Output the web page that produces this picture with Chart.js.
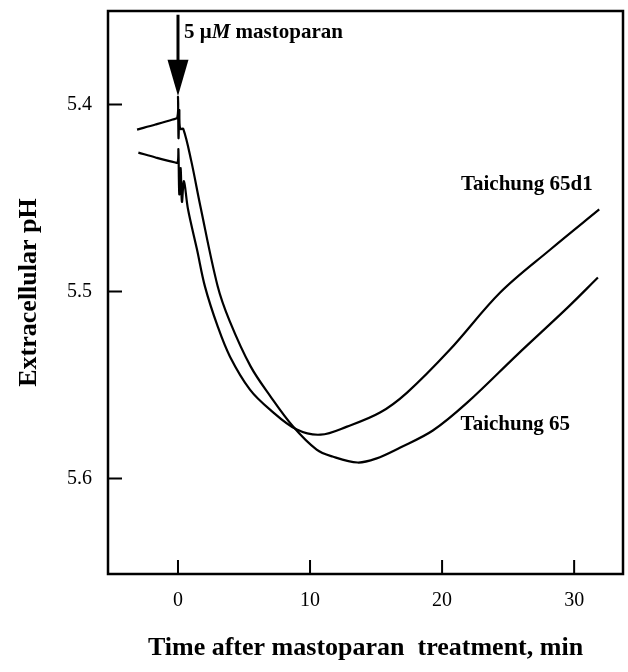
<!DOCTYPE html>
<html>
<head>
<meta charset="utf-8">
<script src="https://cdn.jsdelivr.net/npm/chart.js@4.4.0/dist/chart.umd.min.js"></script>
<style>
  html, body { margin: 0; padding: 0; background: #fff; }
</style>
</head>
<body>
<canvas id="c" width="628" height="672"></canvas>
<script>
// Taichung 65: time (min) / extracellular pH
const t65 = [-3.1, -1.7, -0.4, -0.05, 0, 0.04, 0.1, 0.16, 0.4, 1.0, 1.7, 3.0, 3.9, 5.5, 7.0, 8.7, 10.5, 11.7, 13.6, 15.0, 16.8, 19.3, 21.9, 25.7, 29.5, 31.8];
const ph65 = [5.4134, 5.4107, 5.408, 5.407, 5.396, 5.418, 5.403, 5.413, 5.413, 5.43, 5.4545, 5.497, 5.5155, 5.540, 5.556, 5.572, 5.5845, 5.5882, 5.5914, 5.5893, 5.5835, 5.5743, 5.5594, 5.5337, 5.5086, 5.4925];
// Taichung 65d1
const t65d1 = [-3.0, -1.7, -0.2, -0.02, 0.03, 0.1, 0.2, 0.3, 0.45, 0.76, 1.44, 2.05, 3.0, 3.94, 5.45, 6.97, 9.0, 10.8, 12.8, 15.3, 17.35, 20.6, 24.4, 28.2, 31.9];
const ph65d1 = [5.4257, 5.4283, 5.431, 5.431, 5.424, 5.448, 5.434, 5.452, 5.441, 5.456, 5.4775, 5.4975, 5.5185, 5.5348, 5.5524, 5.5631, 5.5738, 5.5765, 5.5722, 5.5647, 5.554, 5.531, 5.5005, 5.4775, 5.4561];

const xTicks = [0, 10, 20, 30];
const yTicks = [5.4, 5.5, 5.6];

// mastoparan arrow (at t = 0)
const arrowX = 0;
const arrowTop = 5.352;
const arrowHeadBase = 5.376;
const arrowTip = 5.3955;

const serif = '"Liberation Serif", "Times New Roman", serif';

function pts(xs, ys) {
  return xs.map((v, i) => ({ x: v, y: ys[i] }));
}

const overlay = {
  id: 'overlay',
  afterDraw(chart) {
    const { ctx, chartArea: a, scales: { x, y } } = chart;
    ctx.save();
    ctx.strokeStyle = '#000';
    ctx.fillStyle = '#000';
    // frame
    ctx.lineWidth = 2.5;
    ctx.strokeRect(a.left, a.top, a.right - a.left, a.bottom - a.top);
    // inward ticks
    ctx.lineWidth = 2;
    ctx.beginPath();
    x.ticks.forEach(t => {
      const px = x.getPixelForValue(t.value);
      ctx.moveTo(px, a.bottom);
      ctx.lineTo(px, a.bottom - 14);
    });
    y.ticks.forEach(t => {
      const py = y.getPixelForValue(t.value);
      ctx.moveTo(a.left, py);
      ctx.lineTo(a.left + 14, py);
    });
    ctx.stroke();

    // arrow
    const ax = x.getPixelForValue(arrowX);
    const yTop = y.getPixelForValue(arrowTop);
    const yBase = y.getPixelForValue(arrowHeadBase);
    const yTip = y.getPixelForValue(arrowTip);
    ctx.lineWidth = 3;
    ctx.beginPath();
    ctx.moveTo(ax, yTop);
    ctx.lineTo(ax, yBase + 1);
    ctx.stroke();
    ctx.beginPath();
    ctx.moveTo(ax - 10.5, yBase);
    ctx.lineTo(ax + 10.5, yBase);
    ctx.lineTo(ax, yTip);
    ctx.closePath();
    ctx.fill();

    // dose label: 5 μM mastoparan
    ctx.textBaseline = 'middle';
    ctx.textAlign = 'left';
    let tx = ax + 6;
    const ty = y.getPixelForValue(5.3618);
    const parts = [['5 \u03BC', 'bold'], ['M', 'italic bold'], [' mastoparan', 'bold']];
    parts.forEach(([s, w]) => {
      ctx.font = w + ' 21px ' + serif;
      ctx.fillText(s, tx, ty);
      tx += ctx.measureText(s).width;
    });

    // series labels
    ctx.font = 'bold 21px ' + serif;
    ctx.textAlign = 'right';
    ctx.fillText('Taichung 65d1', x.getPixelForValue(31.4), y.getPixelForValue(5.443));
    ctx.textAlign = 'left';
    ctx.fillText('Taichung 65', x.getPixelForValue(21.4), y.getPixelForValue(5.571));
    ctx.restore();
  }
};

const lineStyle = {
  borderColor: '#000',
  borderWidth: 2.2,
  pointRadius: 0,
  fill: false,
  showLine: true,
  tension: 0.35
};

new Chart(document.getElementById('c'), {
  type: 'scatter',
  data: {
    datasets: [
      Object.assign({ label: 'Taichung 65', data: pts(t65, ph65) }, lineStyle),
      Object.assign({ label: 'Taichung 65d1', data: pts(t65d1, ph65d1) }, lineStyle)
    ]
  },
  options: {
    responsive: false,
    animation: false,
    layout: { padding: { left: 0, right: 5, top: 11, bottom: 0 } },
    plugins: { legend: { display: false }, tooltip: { enabled: false } },
    scales: {
      x: {
        type: 'linear',
        min: -5.3,
        max: 33.7,
        grid: { display: false, drawTicks: false },
        border: { display: false },
        afterBuildTicks: s => { s.ticks = xTicks.map(v => ({ value: v })); },
        afterFit: s => { s.height = 98; s.paddingLeft = 0; s.paddingRight = 0; },
        ticks: { color: '#000', padding: 15, font: { family: serif, size: 20 } },
        title: {
          display: true,
          text: 'Time after mastoparan  treatment, min',
          color: '#000',
          padding: { top: 8, bottom: 8 },
          font: { family: serif, size: 26, weight: 'bold' }
        }
      },
      y: {
        type: 'linear',
        reverse: true,
        min: 5.35,
        max: 5.651,
        grid: { display: false, drawTicks: false },
        border: { display: false },
        afterBuildTicks: s => { s.ticks = yTicks.map(v => ({ value: v })); },
        afterFit: s => { s.width = 108; s.paddingTop = 0; s.paddingBottom = 0; },
        ticks: {
          color: '#000',
          padding: 16,
          font: { family: serif, size: 20 },
          callback: v => Number(v).toFixed(1)
        },
        title: {
          display: true,
          text: 'Extracellular pH',
          color: '#000',
          padding: { top: 14, bottom: 14 },
          font: { family: serif, size: 26, weight: 'bold' }
        }
      }
    }
  },
  plugins: [overlay]
});
</script>
</body>
</html>
